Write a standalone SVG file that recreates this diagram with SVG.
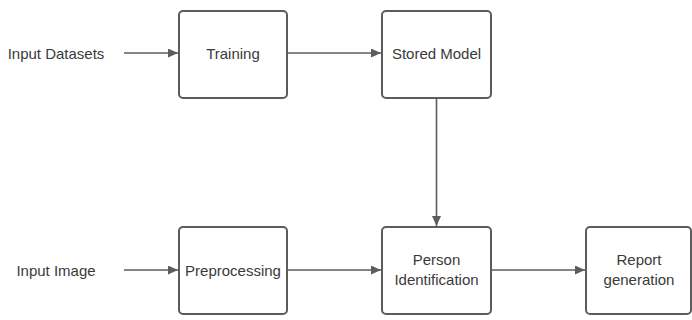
<svg xmlns="http://www.w3.org/2000/svg" width="692" height="320" viewBox="0 0 692 320">
  <style>
    .box { fill: #ffffff; stroke: #5c5c5c; stroke-width: 2; }
    .lbl { font-family: "Liberation Sans", Arial, sans-serif; font-size: 15px; fill: #3a3a3a; text-anchor: middle; dominant-baseline: central; }
    .edge { fill: none; stroke: #5c5c5c; stroke-width: 1.6; marker-end: url(#arrow); }
  </style>
  <defs>
    <marker id="arrow" viewBox="0 0 10 10" refX="10" refY="5" markerWidth="10" markerHeight="9" markerUnits="userSpaceOnUse" orient="auto" preserveAspectRatio="none">
      <path d="M0,0 L10,5 L0,10 Z" fill="#5c5c5c"/>
    </marker>
  </defs>
  <rect width="692" height="320" fill="#ffffff"/>

  <g id="input-datasets">
    <text class="lbl" x="56" y="53">Input Datasets</text>
  </g>
  <g id="training">
    <rect class="box" x="179" y="11" width="108" height="87" rx="4"/>
    <text class="lbl" x="233" y="53">Training</text>
  </g>
  <g id="stored-model">
    <rect class="box" x="382" y="11" width="109" height="87" rx="4"/>
    <text class="lbl" x="436.5" y="53">Stored Model</text>
  </g>
  <g id="input-image">
    <text class="lbl" x="56" y="270">Input Image</text>
  </g>
  <g id="preprocessing">
    <rect class="box" x="179" y="227" width="108" height="87" rx="4"/>
    <text class="lbl" x="233" y="270">Preprocessing</text>
  </g>
  <g id="person-identification">
    <rect class="box" x="382" y="227" width="109" height="87" rx="4"/>
    <text class="lbl" x="436.5" y="259.5">Person</text>
    <text class="lbl" x="436.5" y="279">Identification</text>
  </g>
  <g id="report-generation">
    <rect class="box" x="586" y="227" width="105" height="87" rx="4"/>
    <text class="lbl" x="639" y="259.5">Report</text>
    <text class="lbl" x="639" y="279">generation</text>
  </g>

  <g id="connectors">
    <line class="edge" x1="124" y1="53" x2="178" y2="53"/>
    <line class="edge" x1="288" y1="53" x2="381" y2="53"/>
    <line class="edge" x1="436.5" y1="99" x2="436.5" y2="226"/>
    <line class="edge" x1="124" y1="270" x2="178" y2="270"/>
    <line class="edge" x1="288" y1="270" x2="381" y2="270"/>
    <line class="edge" x1="492" y1="270" x2="585" y2="270"/>
  </g>
</svg>
